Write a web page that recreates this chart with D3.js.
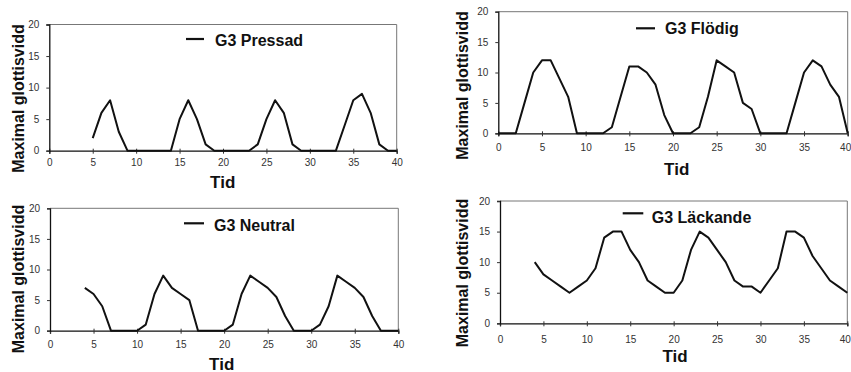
<!DOCTYPE html>
<html lang="sv">
<head>
<meta charset="utf-8">
<script src="https://d3js.org/d3.v7.min.js"></script>
<style>
  body { margin: 0; background: #fff; }
  svg { display: block; font-family: "Liberation Sans", Arial, sans-serif; }
  .tick text { fill: #333; font-size: 10px; }
</style>
</head>
<body>
<svg id="chart" width="851" height="372"></svg>
<script>
// data
const pressadTid = [5,6,7,8,9,10,11,12,13,14,15,16,17,18,19,20,21,22,23,24,25,26,27,28,29,30,31,32,33,34,35,36,37,38,39,40];
const pressadVarde = [2,6,8,3,0,0,0,0,0,0,5,8,5,1,0,0,0,0,0,1,5,8,6,1,0,0,0,0,0,4,8,9,6,1,0,0];

const flodigTid = [0,1,2,3,4,5,6,7,8,9,10,11,12,13,14,15,16,17,18,19,20,21,22,23,24,25,26,27,28,29,30,31,32,33,34,35,36,37,38,39,40];
const flodigVarde = [0,0,0,5,10,12,12,9,6,0,0,0,0,1,6,11,11,10,8,3,0,0,0,1,6,12,11,10,5,4,0,0,0,0,5,10,12,11,8,6,0];

const neutralTid = [4,5,6,7,8,9,10,11,12,13,14,15,16,17,18,19,20,21,22,23,24,25,26,27,28,29,30,31,32,33,34,35,36,37,38,39,40];
const neutralVarde = [7,6,4,0,0,0,0,1,6,9,7,6,5,0,0,0,0,1,6,9,8,7,5.5,2.4,0,0,0,1,4,9,8,7,5.5,2.4,0,0,0];

const lackandeTid = [4,5,6,7,8,9,10,11,12,13,14,15,16,17,18,19,20,21,22,23,24,25,26,27,28,29,30,31,32,33,34,35,36,37,38,39,40];
const lackandeVarde = [10,8,7,6,5,6,7,9,14,15,15,12,10,7,6,5,5,7,12,15,14,12,10,7,6,6,5,7,9,15,15,14,11,9,7,6,5];

const xTicks = [0,5,10,15,20,25,30,35,40];
const yTicks = [0,5,10,15,20];
const yTitel = "Maximal glottisvidd";
const xTitel = "Tid";

// panel layout
const panels = [
  {name: "G3 Pressad", tid: pressadTid, varde: pressadVarde,
   l: 49.3, r: 396.7, t: 24.5, b: 150.7, pad: 5.7, tidY: 187.5, tidX: 222.7, yx: 18.5, yy: 98.5,
   lg: [186, 204, 39, 215, 46]},
  {name: "G3 Flödig", tid: flodigTid, varde: flodigVarde,
   l: 498.3, r: 847.7, t: 11.7, b: 133.3, pad: 8.1, tidY: 175, tidX: 676.7, yx: 462.7, yy: 85.5,
   lg: [636, 655, 28.3, 665, 34.3], edge: true},
  {name: "G3 Neutral", tid: neutralTid, varde: neutralVarde,
   l: 50, r: 398.3, t: 208.3, b: 330.7, pad: 7.7, tidY: 369.5, tidX: 221.7, yx: 18, yy: 279,
   lg: [184, 204, 223.3, 214, 230.7]},
  {name: "G3 Läckande", tid: lackandeTid, varde: lackandeVarde,
   l: 500, r: 847.3, t: 201, b: 323.3, pad: 9.4, tidY: 361.5, tidX: 675, yx: 462.7, yy: 273,
   lg: [622.7, 643.3, 213.3, 651.7, 222.7], edge: true}
];

const svg = d3.select("#chart");

panels.forEach(function (p) {
  const x = d3.scaleLinear().domain([0, 40]).range([p.l, p.r]);
  const y = d3.scaleLinear().domain([0, 20]).range([p.b, p.t]);
  const g = svg.append("g");

  // frame top + right
  g.append("path")
    .attr("d", `M${x(0)},${y(20)}H${x(40)}V${y(0)}`)
    .attr("fill", "none").attr("stroke", "#777").attr("stroke-width", 1);

  // x axis
  const xa = g.append("g")
    .attr("transform", `translate(0,${y(0)})`)
    .call(d3.axisBottom(x).tickValues(xTicks).tickSizeOuter(0).tickSize(3).tickPadding(p.pad));
  xa.select(".domain").attr("stroke", "#111").attr("stroke-width", 1.3);
  xa.selectAll(".tick line").attr("stroke", "#333").attr("y1", -2);
  // keep the last label inside the window on the right-hand panels
  if (p.edge) {
    xa.selectAll(".tick text").filter(d => d === 40)
      .attr("text-anchor", "end").attr("dx", 3);
  }

  // y axis
  const ya = g.append("g")
    .attr("transform", `translate(${x(0)},0)`)
    .call(d3.axisLeft(y).tickValues(yTicks).tickSizeOuter(0).tickSize(3).tickPadding(7));
  ya.select(".domain").attr("stroke", "#111").attr("stroke-width", 1.3);
  ya.selectAll(".tick line").attr("stroke", "#333");

  // data line
  const pts = p.tid.map((t, i) => [t, p.varde[i]]);
  g.append("path")
    .datum(pts)
    .attr("fill", "none")
    .attr("stroke", "#111")
    .attr("stroke-width", 2)
    .attr("stroke-linejoin", "round")
    .attr("d", d3.line().x(d => x(d[0])).y(d => y(d[1])));

  // legend
  g.append("line")
    .attr("x1", p.lg[0]).attr("x2", p.lg[1]).attr("y1", p.lg[2]).attr("y2", p.lg[2])
    .attr("stroke", "#111").attr("stroke-width", 2.2);
  g.append("text")
    .attr("x", p.lg[3]).attr("y", p.lg[4])
    .attr("font-size", 16).attr("font-weight", "bold").attr("fill", "#111")
    .text(p.name);

  // axis titles
  g.append("text")
    .attr("transform", `translate(${p.yx},${p.yy}) rotate(-90)`)
    .attr("text-anchor", "middle").attr("dy", "0.35em")
    .attr("font-size", 16).attr("font-weight", "bold").attr("fill", "#111")
    .text(yTitel);
  g.append("text")
    .attr("x", p.tidX).attr("y", p.tidY)
    .attr("text-anchor", "middle")
    .attr("font-size", 17).attr("font-weight", "bold").attr("fill", "#111")
    .text(xTitel);
});
</script>
</body>
</html>
